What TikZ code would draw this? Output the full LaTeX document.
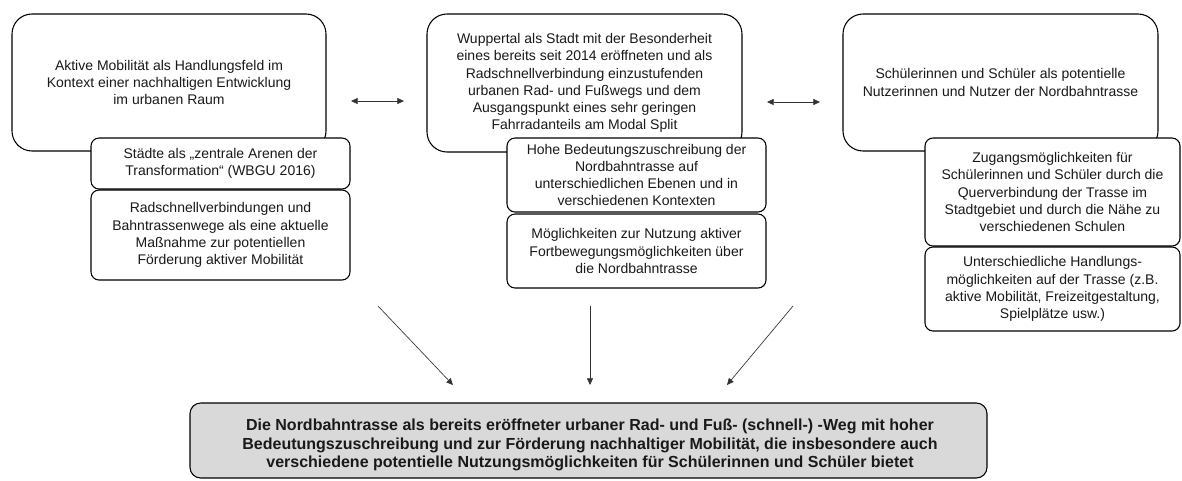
\documentclass[tikz,border=0pt]{standalone}
\usepackage{fontspec}
\setmainfont{Liberation Sans}
\usetikzlibrary{arrows.meta}
\definecolor{boxgray}{HTML}{D9D9D9}
\begin{document}
\begin{tikzpicture}[x=0.75pt,y=-0.75pt,
  txt/.style={font={\fontsize{10.5pt}{12.9pt}\selectfont}, align=center, text=black!90},
  bigbox/.style={txt, draw=black, line width=0.8pt, fill=white, rounded corners=15pt, inner sep=0pt},
  subbox/.style={txt, draw=black, line width=0.8pt, fill=white, rounded corners=6pt, inner sep=0pt},
  sz/.style 2 args={minimum width=#1*0.75pt, minimum height=#2*0.75pt},
  link/.style={draw=black!80, line width=0.5pt},
  tip/.style={-{Triangle[length=5pt,width=4.5pt]}},
  bothtips/.style={{Triangle[length=5pt,width=4.5pt]}-{Triangle[length=5pt,width=4.5pt]}}
]
\useasboundingbox (0,0) rectangle (1182,480);

% left column
\node[bigbox, sz={314}{137}] (L) at (169,82.5)
  {Aktive Mobilität als Handlungsfeld im\\Kontext einer nachhaltigen Entwicklung\\im urbanen Raum};
\node[subbox, sz={259}{51}] (L1) at (220.5,163.5)
  {Städte als „zentrale Arenen der\\Transformation“ (WBGU 2016)};
\node[subbox, sz={259}{90}] (L2) at (220.5,235)
  {Radschnellverbindungen und\\Bahntrassenwege als eine aktuelle\\Maßnahme zur potentiellen\\Förderung aktiver Mobilität};

% middle column
\node[bigbox, sz={315}{138}] (M) at (584.5,83)
  {Wuppertal als Stadt mit der Besonderheit\\eines bereits seit 2014 eröffneten und als\\Radschnellverbindung einzustufenden\\urbanen Rad- und Fußwegs und dem\\Ausgangspunkt eines sehr geringen\\Fahrradanteils am Modal Split};
\node[subbox, sz={259}{74}] (M1) at (636.5,175)
  {Hohe Bedeutungszuschreibung der\\Nordbahntrasse auf\\unterschiedlichen Ebenen und in\\verschiedenen Kontexten};
\node[subbox, sz={259}{74}] (M2) at (636.5,251)
  {Möglichkeiten zur Nutzung aktiver\\Fortbewegungsmöglichkeiten über\\die Nordbahntrasse};

% right column
\node[bigbox, sz={315}{137}] (R) at (1000.5,82.5)
  {Schülerinnen und Schüler als potentielle\\Nutzerinnen und Nutzer der Nordbahntrasse};
\node[subbox, sz={255}{108}] (R1) at (1052.5,192)
  {Zugangsmöglichkeiten für\\Schülerinnen und Schüler durch die\\Querverbindung der Trasse im\\Stadtgebiet und durch die Nähe zu\\verschiedenen Schulen};
\node[subbox, sz={255}{84}] (R2) at (1052.5,289)
  {Unterschiedliche Handlungs-\\möglichkeiten auf der Trasse (z.B.\\aktive Mobilität, Freizeitgestaltung,\\Spielplätze usw.)};

% result box
\node[draw=black, line width=0.8pt, fill=boxgray, rounded corners=8pt, sz={797}{75}] (B) at (588.5,440.5) {};
\node[txt, font={\bfseries\fontsize{12pt}{13.6pt}\selectfont}, inner sep=0pt] (Btext) at (590,445)
  {Die Nordbahntrasse als bereits eröffneter urbaner Rad- und Fuß- (schnell-) -Weg mit hoher\\Bedeutungszuschreibung und zur Förderung nachhaltiger Mobilität, die insbesondere auch\\verschiedene potentielle Nutzungsmöglichkeiten für Schülerinnen und Schüler bietet};

% connector ends
\coordinate (lm1) at (351,101);
\coordinate (lm2) at (404,101);
\coordinate (mr1) at (767,102);
\coordinate (mr2) at (820,102);
\coordinate (s1) at (378,306);
\coordinate (e1) at (453,385);
\coordinate (s2) at (590,306);
\coordinate (e2) at (590,385);
\coordinate (s3) at (793,306);
\coordinate (e3) at (727,385);

\draw[link, bothtips] (lm1) -- (lm2);
\draw[link, bothtips] (mr1) -- (mr2);
\draw[link, tip] (s1) -- (e1);
\draw[link, tip] (s2) -- (e2);
\draw[link, tip] (s3) -- (e3);
\end{tikzpicture}
\end{document}
